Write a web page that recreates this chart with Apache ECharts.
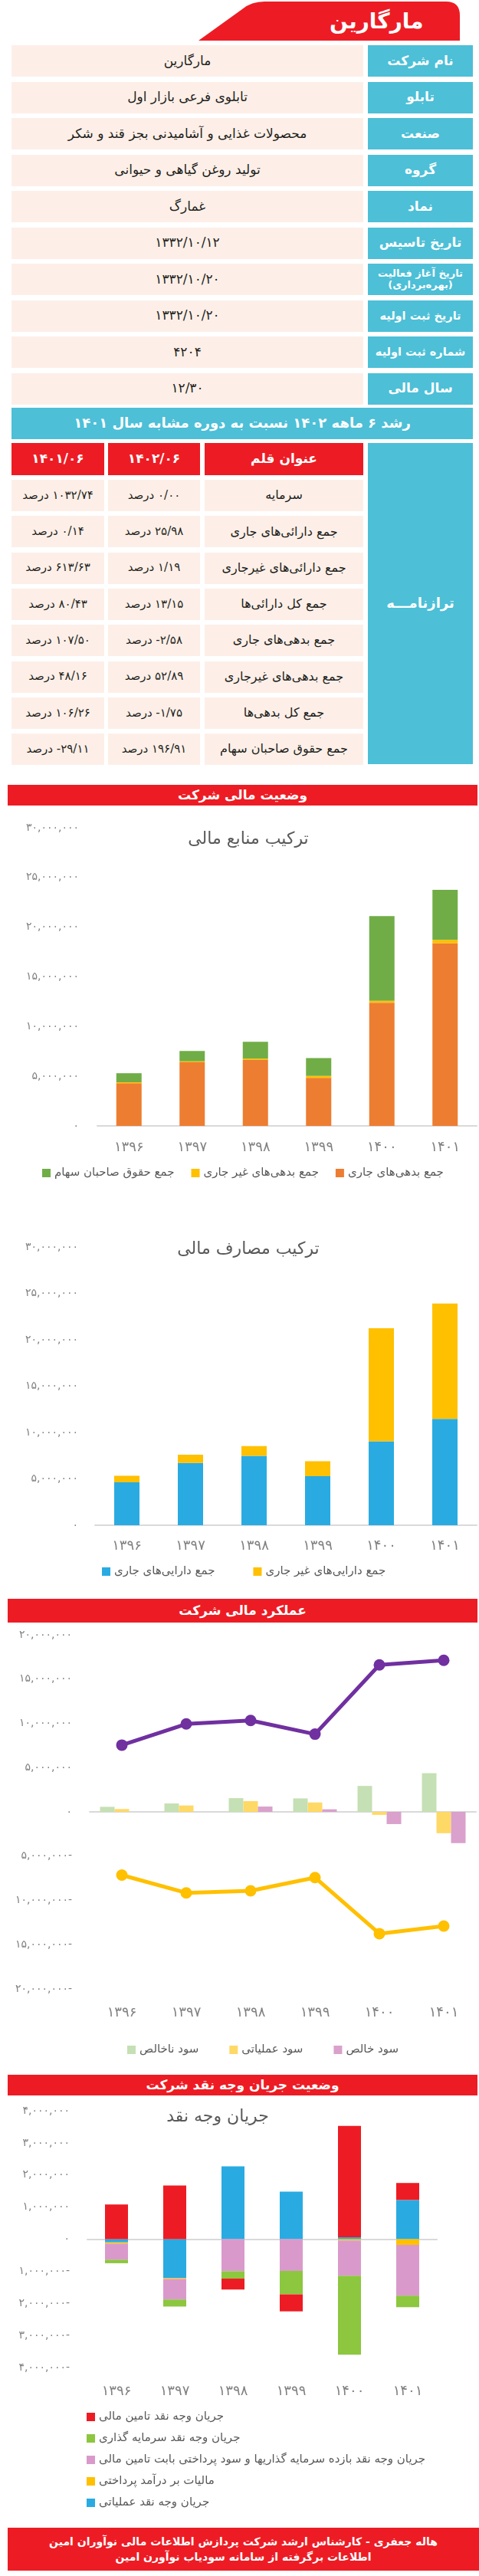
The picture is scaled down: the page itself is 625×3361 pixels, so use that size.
<!DOCTYPE html>
<html><head><meta charset="utf-8">
<script src="https://cdn.jsdelivr.net/npm/echarts@6/dist/echarts.min.js"></script>
<style>
body{margin:0;background:#fff;}
#page{position:relative;width:625px;height:3361px;overflow:hidden;font-family:"DejaVu Sans",sans-serif;background:#fff;}
.b{position:absolute;box-sizing:border-box;display:flex;align-items:center;justify-content:center;text-align:center;direction:rtl;line-height:1.15;}
.ch{position:absolute;left:0;width:625px;}
</style></head><body><div id="page">
<svg style="position:absolute;left:0;top:0" width="625" height="60"><path d="M259,53 L600,53 L600,20 Q600,2 582,2 L345,2 Q328,2 316,12 Z" fill="#ED1C24"/></svg>
<div class="b" style="left:430px;top:6px;width:160px;height:44px;justify-content:flex-end;color:#fff;font-weight:bold;font-size:28px;">مارگارین</div>
</div>
<script>
// ---------- data ----------
const infoLabels = ['نام شرکت','تابلو','صنعت','گروه','نماد','تاریخ تاسیس','تاریخ آغاز فعالیت (بهره‌برداری)','تاریخ ثبت اولیه','شماره ثبت اولیه','سال مالی'];
const infoValues = ['مارگارین','تابلوی فرعی بازار اول','محصولات غذایی و آشامیدنی بجز قند و شکر','تولید روغن گیاهی و حیوانی','غمارگ','۱۳۳۲/۱۰/۱۲','۱۳۳۲/۱۰/۲۰','۱۳۳۲/۱۰/۲۰','۴۲۰۴','۱۲/۳۰'];
const growthTitle = 'رشد ۶ ماهه ۱۴۰۲ نسبت به دوره مشابه سال ۱۴۰۱';
const growthHeaders = ['عنوان قلم','۱۴۰۲/۰۶','۱۴۰۱/۰۶'];
const growthItems = ['سرمایه','جمع دارائی‌های جاری','جمع دارائی‌های غیرجاری','جمع کل دارائی‌ها','جمع بدهی‌های جاری','جمع بدهی‌های غیرجاری','جمع کل بدهی‌ها','جمع حقوق صاحبان سهام'];
const growth1402 = ['۰/۰۰ درصد','۲۵/۹۸ درصد','۱/۱۹ درصد','۱۳/۱۵ درصد','۲/۵۸- درصد','۵۲/۸۹ درصد','۱/۷۵- درصد','۱۹۶/۹۱ درصد'];
const growth1401 = ['۱۰۳۲/۷۴ درصد','۰/۱۴ درصد','۶۱۳/۶۳ درصد','۸۰/۴۳ درصد','۱۰۷/۵۰ درصد','۴۸/۱۶ درصد','۱۰۶/۲۶ درصد','۲۹/۱۱- درصد'];
const sectionTitles = ['وضعیت مالی شرکت','عملکرد مالی شرکت','وضعیت جریان وجه نقد شرکت'];
const footerLines = ['هاله جعفری - کارشناس ارشد شرکت پردازش اطلاعات مالی نوآوران امین','اطلاعات برگرفته از سامانه سودیاب نوآورن امین'];

const years = ['۱۳۹۶','۱۳۹۷','۱۳۹۸','۱۳۹۹','۱۴۰۰','۱۴۰۱'];

// chart 1: ترکیب منابع مالی
const c1Title = 'ترکیب منابع مالی';
const c1Names = ['جمع بدهی‌های جاری','جمع بدهی‌های غیر جاری','جمع حقوق صاحبان سهام'];
const currentLiab = [4290000, 6410000, 6630000, 4840000, 12400000, 18370000];
const nonCurrentLiab = [110000, 80000, 140000, 190000, 190000, 360000];
const equity = [910000, 1040000, 1700000, 1790000, 8530000, 5030000];

// chart 2: ترکیب مصارف مالی
const c2Title = 'ترکیب مصارف مالی';
const c2Names = ['جمع دارایی‌های جاری','جمع دارایی‌های غیر جاری'];
const currentAssets = [4630000, 6710000, 7480000, 5290000, 9040000, 11460000];
const nonCurrentAssets = [700000, 900000, 1050000, 1620000, 12200000, 12450000];

// chart 3: عملکرد مالی
const c3Names = ['سود ناخالص','سود عملیاتی','سود خالص'];
const revenue = [7540000, 9930000, 10330000, 8780000, 16600000, 17120000];
const costOfSales = [-7140000, -9150000, -8920000, -7420000, -13760000, -12900000];
const grossProfit = [570000, 950000, 1550000, 1520000, 2930000, 4370000];
const operatingProfit = [320000, 720000, 1210000, 1060000, -340000, -2410000];
const netProfit = [0, 0, 600000, 290000, -1380000, -3530000];

// chart 4: جریان وجه نقد
const c4Title = 'جریان وجه نقد';
const c4Names = ['جریان وجه نقد تامین مالی','جریان وجه نقد سرمایه گذاری','جریان وجه نقد بازده سرمایه گذاریها و سود پرداختی بابت تامین مالی','مالیات بر درآمد پرداختی','جریان وجه نقد عملیاتی'];
const cfOperating = [-100000, -1210000, 2270000, 1480000, 60000, 1220000];
const cfTax = [-40000, -30000, 0, 0, -40000, -180000];
const cfReturns = [-500000, -640000, -1000000, -990000, -1100000, -1580000];
const cfInvesting = [-110000, -220000, -230000, -730000, -2460000, -360000];
const cfFinancing = [1080000, 1670000, -340000, -530000, 3470000, 530000];

// ---------- layout helpers ----------
const page = document.getElementById('page');
function box(x, y, w, h, bg, html, css) {
  const d = document.createElement('div');
  d.className = 'b';
  d.style.cssText += `left:${x}px;top:${y}px;width:${w}px;height:${h}px;background:${bg};` + (css || '');
  d.innerHTML = html;
  page.appendChild(d);
  return d;
}
const TEAL = '#4DBFD7', CELL = '#FDEFE8', RED = '#ED1C24', INK = '#231F20';

infoLabels.forEach((lab, i) => {
  const y = 59 + i * 47.5;
  box(15, y, 459, 41, CELL, infoValues[i], `color:${INK};font-size:17px;`);
  const small = lab.length > 20;
  const fs = small ? 13 : (lab.length > 11 ? 14.5 : 17);
  box(480, y, 137, 41, TEAL, small ? 'تاریخ آغاز فعالیت<br>(بهره‌برداری)' : lab,
      `color:#fff;font-weight:bold;font-size:${fs}px;white-space:nowrap;`);
});
box(15, 532, 602, 41, TEAL, growthTitle, 'color:#fff;font-weight:bold;font-size:18px;');
const cols = [[267, 207], [141, 120], [15, 121]];
growthHeaders.forEach((h, j) => box(cols[j][0], 578, cols[j][1], 42, RED, h, 'color:#fff;font-weight:bold;font-size:17px;'));
box(480, 578, 137, 419, TEAL, 'ترازنامـــه', 'color:#fff;font-weight:bold;font-size:18px;');
growthItems.forEach((it, i) => {
  const y = 626 + i * 47.3;
  const vals = [it, growth1402[i], growth1401[i]];
  vals.forEach((v, j) => box(cols[j][0], y, cols[j][1], 41, CELL, v, `color:${INK};font-size:${j === 0 ? 16 : 15}px;white-space:nowrap;`));
});
[[1024, 27], [2086, 31], [2707, 27]].forEach((p, i) =>
  box(10, p[0], 613, p[1], RED, sectionTitles[i], 'color:#fff;font-weight:bold;font-size:17px;'));
box(10, 3298, 615, 56, RED, footerLines.join('<br>'), 'color:#fff;font-weight:bold;font-size:14px;line-height:1.45;');

function chartDiv(top, h) {
  const d = document.createElement('div');
  d.className = 'ch';
  d.style.top = top + 'px';
  d.style.height = h + 'px';
  page.appendChild(d);
  return echarts.init(d, null, { renderer: 'canvas' });
}
const FONT = 'DejaVu Sans';
const faDigits = s => String(s).replace(/[0-9]/g, d => '۰۱۲۳۴۵۶۷۸۹'[d]);
const fmt = v => faDigits(Math.abs(v).toLocaleString('en-US')) + (v < 0 ? '-' : '');
const GRAY = '#808080', DARK = '#595959', LINE = '#D9D9D9';

function valAxis(min, max, interval, margin) {
  return { type: 'value', min, max, interval, splitLine: { show: false }, axisLine: { show: false }, axisTick: { show: false },
    axisLabel: { formatter: fmt, color: GRAY, fontSize: 14, fontFamily: FONT, margin } };
}
function catAxisBottom(margin) {
  return { type: 'category', data: years, axisTick: { show: false }, axisLine: { lineStyle: { color: LINE, width: 2 } },
    axisLabel: { color: GRAY, fontSize: 18, fontFamily: FONT, margin } };
}
const legendText = { color: DARK, fontSize: 15, fontFamily: FONT };

// chart 1
const ch1 = chartDiv(1055, 500);
ch1.setOption({
  animation: false,
  title: { text: c1Title, left: 319, top: 24, textAlign: 'center', textStyle: { color: DARK, fontSize: 22, fontWeight: 'normal', fontFamily: FONT } },
  grid: { left: 127, right: 3, top: 25, height: 389 },
  xAxis: catAxisBottom(19),
  yAxis: valAxis(0, 30000000, 5000000, 24),
  legend: { left: 50, top: 463, itemWidth: 11, itemHeight: 11, itemGap: 22, icon: 'rect', textStyle: legendText,
    data: [c1Names[2], c1Names[1], c1Names[0]] },
  series: [
    { name: c1Names[0], type: 'bar', stack: 's', data: currentLiab, barWidth: 33, itemStyle: { color: '#ED7D31' } },
    { name: c1Names[1], type: 'bar', stack: 's', data: nonCurrentLiab, itemStyle: { color: '#FFC000' } },
    { name: c1Names[2], type: 'bar', stack: 's', data: equity, itemStyle: { color: '#70AD47' } }
  ]
});

// chart 2
const ch2 = chartDiv(1590, 490);
ch2.setOption({
  animation: false,
  title: { text: c2Title, left: 319, top: 24, textAlign: 'center', textStyle: { color: DARK, fontSize: 22, fontWeight: 'normal', fontFamily: FONT } },
  grid: { left: 124, right: 3, top: 37, height: 363 },
  xAxis: catAxisBottom(18),
  yAxis: valAxis(0, 30000000, 5000000, 22),
  legend: { left: 128, top: 448, itemWidth: 11, itemHeight: 11, itemGap: 50, icon: 'rect', textStyle: legendText,
    data: [c2Names[0], c2Names[1]] },
  series: [
    { name: c2Names[0], type: 'bar', stack: 's', data: currentAssets, barWidth: 33, itemStyle: { color: '#29ABE2' } },
    { name: c2Names[1], type: 'bar', stack: 's', data: nonCurrentAssets, itemStyle: { color: '#FFC000' } }
  ]
});

// chart 3
const ch3 = chartDiv(2120, 570);
ch3.setOption({
  animation: false,
  grid: { left: 117, right: 4, top: 13, height: 462 },
  xAxis: [
    { type: 'category', data: years, axisTick: { show: false }, axisLabel: { show: false }, axisLine: { onZero: true, lineStyle: { color: LINE, width: 2 } } },
    { type: 'category', data: years, position: 'bottom', axisTick: { show: false }, axisLine: { show: false, onZero: false },
      axisLabel: { color: GRAY, fontSize: 18, fontFamily: FONT, margin: 22 } }
  ],
  yAxis: valAxis(-20000000, 20000000, 5000000, 23),
  legend: { left: 161, top: 542, itemWidth: 11, itemHeight: 11, itemGap: 40, icon: 'rect', textStyle: legendText,
    data: c3Names },
  series: [
    { name: c3Names[0], type: 'bar', data: grossProfit, barWidth: 19, barGap: '0%', itemStyle: { color: '#C5E0B4' } },
    { name: c3Names[1], type: 'bar', data: operatingProfit, barWidth: 19, barGap: '0%', itemStyle: { color: '#FFD966' } },
    { name: c3Names[2], type: 'bar', data: netProfit, barWidth: 19, barGap: '0%', itemStyle: { color: '#D9A1CC' } },
    { name: 'درآمد', type: 'line', data: revenue, symbol: 'circle', symbolSize: 15, lineStyle: { width: 5, color: '#7030A0' }, itemStyle: { color: '#7030A0' } },
    { name: 'بهای تمام شده', type: 'line', data: costOfSales, symbol: 'circle', symbolSize: 15, lineStyle: { width: 5, color: '#FFC000' }, itemStyle: { color: '#FFC000' } }
  ]
});

// chart 4
const ch4 = chartDiv(2736, 545);
const c4Colors = ['#ED1C24', '#8DC63F', '#D99ACB', '#FFC000', '#29ABE2'];
const c4Data = [cfFinancing, cfInvesting, cfReturns, cfTax, cfOperating];
const c4Order = [4, 3, 2, 1, 0];
ch4.setOption({
  animation: false,
  title: { text: c4Title, left: 279, top: 10, textAlign: 'center', textStyle: { color: DARK, fontSize: 22, fontWeight: 'normal', fontFamily: FONT } },
  grid: { left: 114, right: 55, top: 18, height: 335 },
  xAxis: [
    { type: 'category', data: years, axisTick: { show: false }, axisLabel: { show: false }, axisLine: { onZero: true, lineStyle: { color: LINE, width: 2 } } },
    { type: 'category', data: years, position: 'bottom', axisTick: { show: false }, axisLine: { show: false, onZero: false },
      axisLabel: { color: GRAY, fontSize: 18, fontFamily: FONT, margin: 22 } }
  ],
  yAxis: valAxis(-4000000, 4000000, 1000000, 23),
  legend: { orient: 'vertical', left: 108, top: 405, itemWidth: 11, itemHeight: 11, itemGap: 13, icon: 'rect', textStyle: legendText,
    data: c4Names },
  series: c4Order.map(k => ({ name: c4Names[k], type: 'bar', stack: 'cf', data: c4Data[k], barWidth: 30, itemStyle: { color: c4Colors[k] } }))
});
</script></body></html>
